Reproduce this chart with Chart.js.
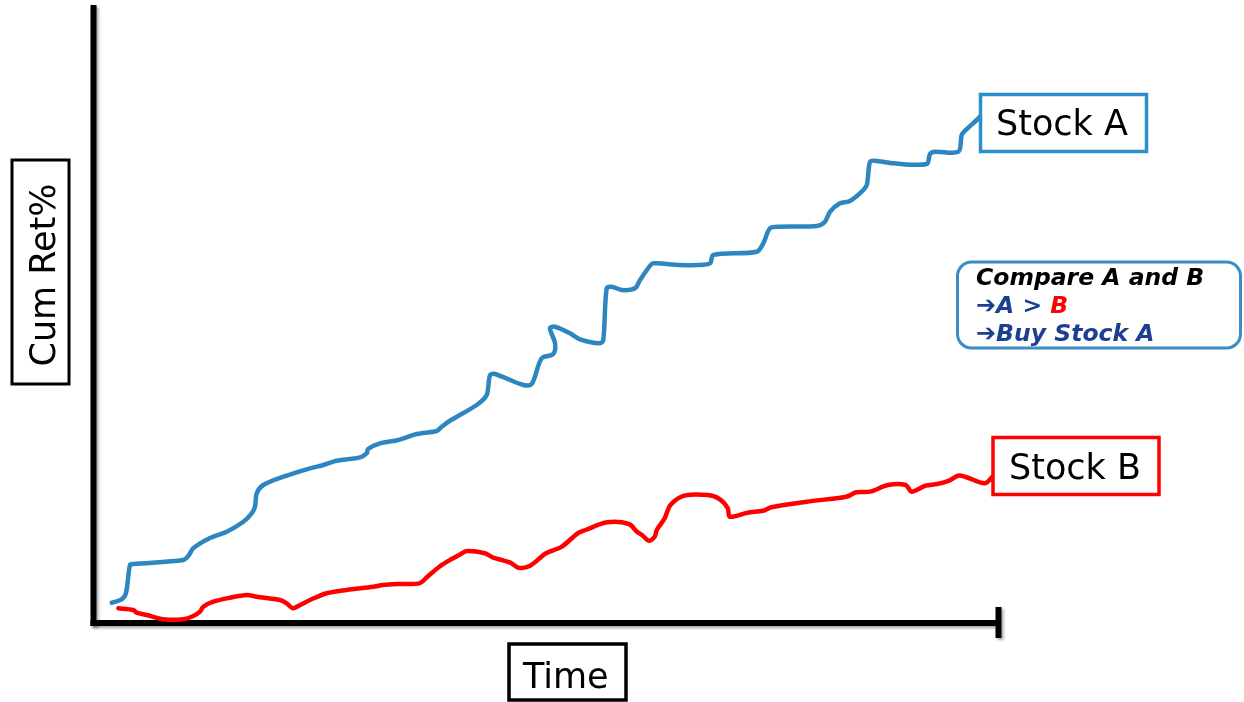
<!DOCTYPE html>
<html>
<head>
<meta charset="utf-8">
<script src="https://cdn.jsdelivr.net/npm/chart.js@4"></script>
<style>
  html, body { margin: 0; padding: 0; background: #ffffff; }
  #wrap { width: 1244px; height: 702px; }
</style>
</head>
<body>
<div id="wrap"><canvas id="c" width="1244" height="702"></canvas></div>
<script>
// Series names
const seriesNames = ['Stock A', 'Stock B'];

// Stock A: time (0-100) and cumulative return (%)
const timeA = [1.96, 3.06, 3.54, 3.98, 4.35, 9.88, 10.43, 10.98, 12.83, 14.68, 16.52, 17.44, 17.81, 18.0, 18.73,
  20.94, 23.89, 25.37, 26.85, 29.42, 30.17, 30.31, 31.64, 33.66, 35.70, 37.91, 38.46, 39.38, 42.33, 43.44,
  43.81, 44.36, 47.49, 48.42, 49.52, 50.81, 51.0, 50.44, 51.0, 52.65, 53.76, 55.97, 56.34, 56.71, 57.27,
  58.37, 59.85, 60.40, 61.69, 62.25, 64.82, 66.67, 68.14, 68.51, 73.31, 74.04, 74.78, 75.88, 79.94, 80.86,
  81.42, 82.52, 83.63, 84.92, 85.48, 85.84, 86.39, 88.42, 92.11, 92.48, 93.03, 95.61, 95.98, 96.35, 97.64, 98.01];
const retA = [3.28, 3.83, 4.85, 9.39, 9.55, 10.19, 10.84, 12.09, 13.75, 14.77, 16.39, 17.75, 18.82, 20.99, 22.33,
  23.67, 25.03, 25.57, 26.26, 26.81, 27.46, 28.16, 29.08, 29.61, 30.58, 31.07, 31.76, 32.73, 35.28, 36.89,
  40.13, 40.29, 38.51, 38.67, 42.83, 43.53, 45.26, 47.69, 47.94, 46.88, 45.91, 45.26, 45.79, 54.16, 54.42,
  53.88, 54.16, 55.50, 58.09, 58.20, 57.93, 57.93, 58.20, 59.55, 60.08, 61.44, 63.87, 64.13, 64.24, 64.94,
  66.55, 67.91, 68.28, 69.79, 70.87, 74.64, 74.81, 74.39, 74.27, 75.89, 76.26, 76.26, 78.96, 79.66, 81.39, 81.93];

// Stock B: time (0-100) and cumulative return (%)
const timeB = [2.69, 4.35, 4.72, 5.83, 7.67, 9.88, 10.98, 11.73, 12.09, 13.20, 15.04, 16.89, 18.0, 20.58, 21.32,
  21.98, 22.79, 23.89, 25.74, 27.95, 30.90, 31.97, 33.85, 36.01, 36.88, 38.20, 39.50, 40.38, 41.26, 43.22,
  44.09, 46.06, 46.94, 48.25, 50.0, 51.75, 53.50, 54.37, 56.78, 59.18, 60.06, 60.71, 61.37, 62.02, 62.25,
  63.12, 63.77, 65.30, 67.92, 69.24, 70.11, 70.33, 72.30, 74.05, 74.92, 78.86, 83.23, 84.33, 85.85, 87.82,
  89.79, 90.44, 91.98, 93.29, 94.60, 95.56, 96.35, 98.53, 99.40];
const retB = [2.38, 2.10, 1.67, 1.29, 0.60, 0.60, 1.13, 1.83, 2.64, 3.45, 4.09, 4.53, 4.26, 3.72, 3.19,
  2.38, 2.91, 3.72, 4.81, 5.34, 5.87, 6.15, 6.31, 6.42, 7.49, 9.11, 10.31, 11.0, 11.65, 11.28,
  10.63, 9.76, 8.95, 9.27, 11.28, 12.35, 14.51, 15.05, 16.29, 16.02, 14.77, 14.13, 13.32, 13.96, 15.05,
  16.94, 19.09, 20.60, 20.71, 20.02, 18.56, 17.20, 17.85, 18.17, 18.72, 19.63, 20.44, 21.15, 21.25, 22.33,
  22.33, 21.25, 22.22, 22.49, 23.03, 23.83, 23.67, 22.61, 23.67];

// Axis ranges
const timeRange = [0, 100];
const retRange = [0, 100];

const toPoints = (xs, ys) => xs.map((x, i) => ({ x: x, y: ys[i] }));

const FONT = "'DejaVu Sans', Verdana, sans-serif";

// Axes, series labels, axis title boxes and the note panel
const decorations = {
  id: 'decorations',
  beforeDatasetsDraw(chart) {
    const ctx = chart.ctx;
    const xs = chart.scales.x, ys = chart.scales.y;
    const x0 = xs.getPixelForValue(timeRange[0]);
    const x1 = xs.getPixelForValue(timeRange[1]);
    const y0 = ys.getPixelForValue(retRange[0]);
    const yTop = ys.getPixelForValue(retRange[1]);
    ctx.save();
    ctx.shadowColor = 'rgba(0,0,0,0.35)';
    ctx.shadowBlur = 3;
    ctx.shadowOffsetX = 2;
    ctx.shadowOffsetY = 2;
    ctx.fillStyle = '#000000';
    // vertical axis
    ctx.fillRect(x0 - 3.5, yTop, 6, y0 - yTop + 3);
    // horizontal axis
    ctx.fillRect(x0 - 3.5, y0 - 3, x1 - x0 + 3.5, 6);
    // end tick on the time axis
    ctx.fillRect(x1 - 2.5, y0 - 16, 6, 31);
    ctx.restore();
  },
  afterDraw(chart) {
    const ctx = chart.ctx;
    ctx.save();

    function boxedText(text, bx, by, bw, bh, color, tx, ty) {
      ctx.lineWidth = 3.5;
      ctx.strokeStyle = color;
      ctx.fillStyle = '#ffffff';
      ctx.fillRect(bx, by, bw, bh);
      ctx.strokeRect(bx, by, bw, bh);
      ctx.fillStyle = '#000000';
      ctx.font = '35px ' + FONT;
      ctx.textAlign = 'left';
      ctx.textBaseline = 'alphabetic';
      ctx.fillText(text, tx, ty);
    }

    // series labels
    boxedText(seriesNames[0], 980.5, 94.5, 166, 57, '#2a8fcc', 996, 135);
    boxedText(seriesNames[1], 993, 437.5, 166, 57, '#ff0000', 1009, 479);

    // time axis title
    boxedText('Time', 509, 644, 117, 56, '#000000', 523, 688);

    // return axis title (rotated)
    ctx.lineWidth = 3;
    ctx.strokeStyle = '#000000';
    ctx.strokeRect(12, 160, 57, 224);
    ctx.save();
    ctx.translate(55, 275);
    ctx.rotate(-Math.PI / 2);
    ctx.fillStyle = '#000000';
    ctx.font = '35px ' + FONT;
    ctx.textAlign = 'center';
    ctx.textBaseline = 'alphabetic';
    ctx.fillText('Cum Ret%', 0, 0);
    ctx.restore();

    // note panel
    ctx.lineWidth = 3;
    ctx.strokeStyle = '#3a8cc4';
    ctx.beginPath();
    ctx.roundRect(957.5, 262, 283, 86, 14);
    ctx.stroke();

    const textFont = 'italic bold 23.5px ' + FONT;
    const arrowFont = 'bold 24px ' + FONT;
    ctx.textAlign = 'left';
    ctx.textBaseline = 'alphabetic';
    ctx.font = textFont;
    ctx.fillStyle = '#000000';
    ctx.fillText('Compare A and B', 976, 285);

    const navy = '#1d3f93';
    function arrowLine(y, parts) {
      let x = 976;
      ctx.fillStyle = navy;
      ctx.font = arrowFont;
      ctx.fillText('\u2794', x, y);
      x += ctx.measureText('\u2794').width;
      ctx.font = textFont;
      parts.forEach(p => {
        ctx.fillStyle = p[1];
        ctx.fillText(p[0], x, y);
        x += ctx.measureText(p[0]).width;
      });
    }
    arrowLine(313, [['A > ', navy], ['B', '#ff0000']]);
    arrowLine(341, [['Buy Stock A', navy]]);

    ctx.restore();
  }
};

new Chart(document.getElementById('c'), {
  type: 'scatter',
  data: {
    datasets: [
      {
        label: seriesNames[0],
        data: toPoints(timeA, retA),
        showLine: true,
        borderColor: '#2e86c1',
        borderWidth: 4.5,
        pointRadius: 0,
        tension: 0.3,
        borderCapStyle: 'round',
        borderJoinStyle: 'round'
      },
      {
        label: seriesNames[1],
        data: toPoints(timeB, retB),
        showLine: true,
        borderColor: '#ff0000',
        borderWidth: 4.5,
        pointRadius: 0,
        tension: 0.3,
        borderCapStyle: 'round',
        borderJoinStyle: 'round'
      }
    ]
  },
  options: {
    responsive: false,
    animation: false,
    layout: { padding: { left: 94, right: 246, top: 5, bottom: 79 } },
    plugins: {
      legend: { display: false },
      tooltip: { enabled: false }
    },
    scales: {
      x: { type: 'linear', min: timeRange[0], max: timeRange[1], display: false },
      y: { type: 'linear', min: retRange[0], max: retRange[1], display: false }
    }
  },
  plugins: [decorations]
});
</script>
</body>
</html>
